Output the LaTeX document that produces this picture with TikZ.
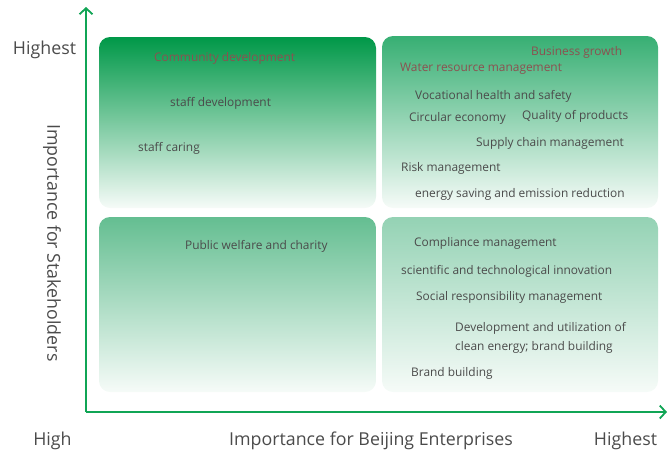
\documentclass[tikz,border=0pt]{standalone}
\usepackage{fontspec}
\setmainfont{Open Sans}
\usetikzlibrary{arrows.meta}
\definecolor{axisgreen}{RGB}{16,165,85}
\definecolor{txtgray}{RGB}{75,75,75}
\definecolor{txtred}{RGB}{140,80,80}
\definecolor{tlTop}{RGB}{0,152,72}
\definecolor{trTop}{RGB}{55,175,115}
\definecolor{blTop}{RGB}{100,190,145}
\definecolor{brTop}{RGB}{148,210,180}
\definecolor{boxBot}{RGB}{246,251,248}
\begin{document}
\begin{tikzpicture}[x=1pt,y=-1pt,
  item/.style={text=txtgray,font=\fontsize{11.9}{14}\selectfont,inner sep=0pt,anchor=west},
  hot/.style={item,text=txtred},
  axislabel/.style={text=txtgray,font=\fontsize{17.8}{20}\selectfont,inner sep=0pt},
  axisline/.style={draw=axisgreen,line width=1.8pt,-{Straight Barb[length=6pt,width=13pt,line width=1.8pt]}},
  quad/.style={rounded corners=11pt}]
\useasboundingbox (0,0) rectangle (672,456);
% quadrants
\shade[quad,top color=tlTop,bottom color=boxBot] (99,37) rectangle (376,208);
\shade[quad,top color=trTop,bottom color=boxBot] (382,36) rectangle (658,208);
\shade[quad,top color=blTop,bottom color=boxBot] (99,217) rectangle (376,392);
\shade[quad,top color=brTop,bottom color=boxBot] (382,217) rectangle (658,392);
% axes
\coordinate (origin) at (86,412);
\coordinate (ytop) at (86,7);
\coordinate (xend) at (667,412);
\draw[axisline] (origin) -- (ytop);
\draw[axisline] (origin) -- (xend);
% axis labels
\node[axislabel] (yhi) at (44.5,50) {Highest};
\node[axislabel,rotate=-90] (ylab) at (52,243) {Importance for Stakeholders};
\node[axislabel] (xlo) at (52.5,441) {High};
\node[axislabel] (xlab) at (371,441) {Importance for Beijing Enterprises};
\node[axislabel] (xhi) at (625.5,441) {Highest};
% top-left
\node[hot] (t1) at (154,58) {Community development};
\node[item] (t2) at (170,103) {staff development};
\node[item] (t3) at (138,148) {staff caring};
% top-right
\node[hot] (r1) at (531,52) {Business growth};
\node[hot] (r2) at (400,69) {Water resource management};
\node[item] (r3) at (415,96) {Vocational health and safety};
\node[item] (r4) at (409,118) {Circular economy};
\node[item] (r5) at (522,116) {Quality of products};
\node[item] (r6) at (476,143) {Supply chain management};
\node[item] (r7) at (401,168) {Risk management};
\node[item] (r8) at (415,194) {energy saving and emission reduction};
% bottom-left
\node[item] (b1) at (185,246) {Public welfare and charity};
% bottom-right
\node[item] (c1) at (414,243) {Compliance management};
\node[item] (c2) at (401,271) {scientific and technological innovation};
\node[item] (c3) at (416,297) {Social responsibility management};
\node[item,align=left,font=\fontsize{11.9}{19}\selectfont] (c4) at (455,337.5) {Development and utilization of\\clean energy; brand building};
\node[item] (c5) at (411,373) {Brand building};
\end{tikzpicture}
\end{document}
